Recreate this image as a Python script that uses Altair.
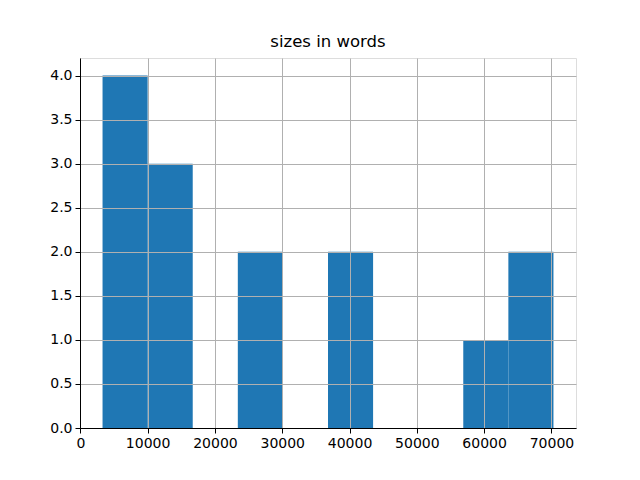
import altair as alt
import pandas as pd

bin_start = [3300, 10000, 16700, 23400, 30100, 36800, 43500, 50200, 56900, 63600]
bin_end = [10000, 16700, 23400, 30100, 36800, 43500, 50200, 56900, 63600, 70300]
counts = [4, 3, 0, 2, 0, 2, 0, 0, 1, 2]

df = pd.DataFrame({"start": bin_start, "end": bin_end, "count": counts})

font = "DejaVu Sans"

chart = alt.Chart(df).mark_bar(color="#1f77b4", strokeWidth=0).encode(
    x=alt.X("start:Q", scale=alt.Scale(domain=[-50, 73650], nice=False, zero=False),
            axis=alt.Axis(title=None, values=list(range(0, 70001, 10000)), format="d",
                          zindex=1, grid=True, gridColor="#b0b0b0", gridWidth=1,
                          domainColor="black", domainWidth=1, tickColor="black",
                          tickSize=5, labelPadding=3, labelFont=font, labelFontSize=14,
                          labelColor="black", labelFlush=False)),
    x2="end:Q",
    y=alt.Y("count:Q", scale=alt.Scale(domain=[0, 4.2], nice=False),
            axis=alt.Axis(title=None, values=[0, 0.5, 1, 1.5, 2, 2.5, 3, 3.5, 4], format=".1f",
                          zindex=1, grid=True, gridColor="#b0b0b0", gridWidth=1,
                          domainColor="black", domainWidth=1, tickColor="black",
                          tickSize=5, labelPadding=3, labelFont=font, labelFontSize=14,
                          labelColor="black", labelFlush=False)),
    y2=alt.datum(0),
).properties(
    width=496,
    height=370,
    title=alt.TitleParams("sizes in words", font=font, fontSize=16.5, fontWeight="normal",
                          color="black", offset=8, anchor="middle"),
    autosize=alt.AutoSizeParams(type="none"),
    padding={"left": 72, "top": 50, "right": 56, "bottom": 44},
).configure_view(stroke="black", strokeWidth=1).configure(background="white")

chart.save("out.html", embed_options={"renderer": "svg", "actions": False})
